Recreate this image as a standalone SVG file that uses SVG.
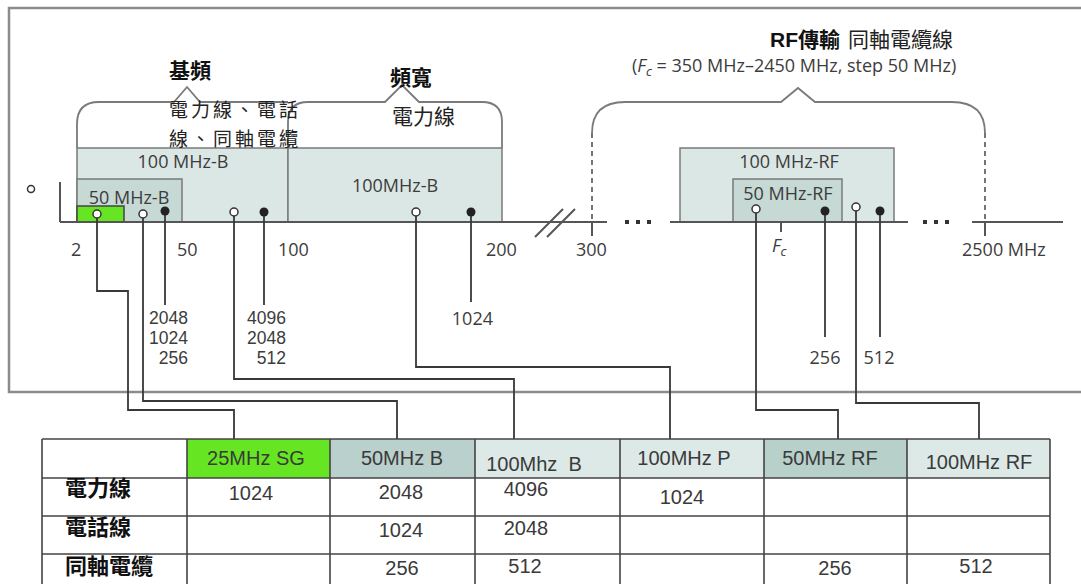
<svg xmlns="http://www.w3.org/2000/svg" width="1081" height="584" viewBox="0 0 1081 584">
<style>
.lbl{font-family:"Open Sans","Liberation Sans",sans-serif;font-size:18px;fill:#3c3c3c}
.stk{font-family:"Liberation Sans",Arial,sans-serif;font-size:17.5px;fill:#3c3c3c}
.cjk{font-family:"Noto Sans CJK TC","Noto Sans CJK SC",sans-serif;font-size:21px;fill:#222}
.cjks{font-family:"Noto Sans CJK TC","Noto Sans CJK SC",sans-serif;font-size:19px;letter-spacing:3px;fill:#222}
.cjkb{font-family:"Noto Sans CJK TC","Noto Sans CJK SC",sans-serif;font-size:21px;font-weight:bold;fill:#111}
.tbl{font-family:"Liberation Sans",Arial,sans-serif;font-size:20px;fill:#3a3a3a;text-anchor:middle}
.rowh{font-family:"Noto Sans CJK TC","Noto Sans CJK SC",sans-serif;font-size:22px;font-weight:bold;fill:#111}
.ax{stroke:#555;stroke-width:2;fill:none}
.br{stroke:#7a7a7a;stroke-width:1.8;fill:none}
.band{stroke:#7a7a7a;stroke-width:1.5}
.light{fill:#dbe7e5}
.mid{fill:#c6d9d5}
.conn{stroke:#383838;stroke-width:1.8;fill:none}
.open{fill:#fff;stroke:#333;stroke-width:1.5}
.dot{fill:#222}
.grid{stroke:#444;stroke-width:1.6;fill:none}
.dash{stroke:#666;stroke-width:1.8;stroke-dasharray:5 4;fill:none}
</style>

<g id="frame">
<rect x="9" y="8" width="1100" height="384" fill="none" stroke="#8c8c8c" stroke-width="2.5"/>
</g>

<g id="band-baseband">
<rect class="band light" x="77" y="148" width="211" height="74"/>
<rect class="band mid" x="77" y="179" width="105" height="43"/>
<rect x="77" y="206" width="47" height="16" fill="#66e622" stroke="#444" stroke-width="1.5"/>
<text class="lbl" x="183" y="168" text-anchor="middle">100 MHz-B</text>
<text class="lbl" x="129" y="204" text-anchor="middle">50 MHz-B</text>
</g>

<g id="band-100b">
<rect class="band light" x="288" y="148" width="214" height="74"/>
<text class="lbl" x="395" y="192" text-anchor="middle">100MHz-B</text>
</g>

<g id="band-rf">
<rect class="band light" x="680" y="148" width="214" height="74"/>
<rect class="band mid" x="733" y="179" width="109" height="43"/>
<text class="lbl" x="789" y="168" text-anchor="middle">100 MHz-RF</text>
<text class="lbl" x="788" y="200" text-anchor="middle">50 MHz-RF</text>
</g>

<g id="braces">
<path class="br" d="M77,148 V124 Q77,102 99,102 H174 L187,87 L200,102 H288"/>
<path class="br" d="M288,148 V122 Q288,102 308,102 H385 L402,85 L419,102 H482 Q502,102 502,122 V148"/>
<path class="br" d="M592,133 Q592,102 625,102 H781 L798,88 L815,102 H952 Q985,102 985,133"/>
<path class="dash" d="M592,133 V222 M985,133 V222"/>
</g>

<g id="titles">
<text class="cjkb" x="169" y="78">基頻</text>
<text class="cjks" x="169" y="117">電力線、電話</text>
<text class="cjks" x="169" y="146">線、同軸電纜</text>
<text class="cjkb" x="390" y="85">頻寬</text>
<text class="cjk" x="392" y="124">電力線</text>
<text x="770" y="47"><tspan font-family="Liberation Sans,Arial,sans-serif" font-size="21" font-weight="bold" fill="#111">RF</tspan><tspan class="cjkb">傳輸</tspan><tspan class="cjk" dx="8">同軸電纜線</tspan></text>
<text class="lbl" x="632" y="72" font-size="19">(<tspan font-style="italic">F</tspan><tspan font-style="italic" font-size="13" dy="4">c</tspan><tspan dy="-4"> = 350 MHz–2450 MHz, step 50 MHz)</tspan></text>
</g>

<g id="axis">
<circle class="open" cx="31" cy="189" r="3.5"/>
<path class="ax" d="M60,222 H607 M670,222 H908 M972,222 H1063 M60,182 V222 M592,222 V236 M985,222 V236 M781,222 V232"/>
<path class="ax" d="M535,237 L563,209 M547,237 L575,209"/>
<g fill="#333">
<rect x="625" y="220" width="4" height="4"/><rect x="636" y="220" width="4" height="4"/><rect x="647" y="220" width="4" height="4"/>
<rect x="923" y="220" width="4" height="4"/><rect x="934" y="220" width="4" height="4"/><rect x="945" y="220" width="4" height="4"/>
</g>
<text class="lbl" x="71" y="256">2</text>
<text class="lbl" x="177" y="256">50</text>
<text class="lbl" x="278" y="256">100</text>
<text class="lbl" x="486" y="256">200</text>
<text class="lbl" x="576" y="256">300</text>
<text class="lbl" x="962" y="256">2500 MHz</text>
<text class="lbl" x="772" y="252" font-style="italic">F<tspan font-size="13" dy="4">c</tspan></text>
</g>

<g id="connectors">
<path class="conn" d="M97,218 V291 H128 V410 H234 V439"/>
<path class="conn" d="M143,218 V401 H397 V439"/>
<path class="conn" d="M165,215 V305"/>
<path class="conn" d="M234,216 V379 H514 V439"/>
<path class="conn" d="M264,216 V305"/>
<path class="conn" d="M416,216 V367 H670 V439"/>
<path class="conn" d="M471,216 V302"/>
<path class="conn" d="M756,213 V410 H838 V439"/>
<path class="conn" d="M856,211 V403 H979 V439"/>
<path class="conn" d="M825,215 V337"/>
<path class="conn" d="M880,215 V337"/>
</g>

<g id="pins">
<circle class="open" cx="97" cy="214" r="4"/>
<circle class="open" cx="143" cy="214" r="4"/>
<circle class="dot" cx="165" cy="211" r="4.5"/>
<circle class="open" cx="234" cy="212" r="4"/>
<circle class="dot" cx="264" cy="212" r="4.5"/>
<circle class="open" cx="416" cy="212" r="4"/>
<circle class="dot" cx="471" cy="212" r="4.5"/>
<circle class="open" cx="756" cy="209" r="4"/>
<circle class="dot" cx="825" cy="211" r="4.5"/>
<circle class="open" cx="856" cy="207" r="4"/>
<circle class="dot" cx="880" cy="211" r="4.5"/>
</g>

<g id="pin-labels">
<text class="stk" x="188" y="324" text-anchor="end">2048</text>
<text class="stk" x="188" y="344" text-anchor="end">1024</text>
<text class="stk" x="188" y="364" text-anchor="end">256</text>
<text class="stk" x="286" y="324" text-anchor="end">4096</text>
<text class="stk" x="286" y="344" text-anchor="end">2048</text>
<text class="stk" x="286" y="364" text-anchor="end">512</text>
<text class="lbl" x="493" y="325" text-anchor="end">1024</text>
<text class="lbl" x="825" y="364" text-anchor="middle">256</text>
<text class="lbl" x="879" y="364" text-anchor="middle">512</text>
</g>

<g id="table">
<rect x="187" y="439" width="143" height="39" fill="#66e622"/>
<rect x="330" y="439" width="145" height="39" fill="#b9d0cc"/>
<rect x="475" y="439" width="145" height="39" fill="#dde9e7"/>
<rect x="620" y="439" width="144" height="39" fill="#dde9e7"/>
<rect x="764" y="439" width="143" height="39" fill="#b7d0ca"/>
<rect x="907" y="439" width="143" height="39" fill="#dde9e7"/>
<path class="grid" d="M42,439 H1050 M42,478 H1050 M42,516 H1050 M42,554 H1050 M42,439 V590 M187,439 V590 M330,439 V590 M475,439 V590 M620,439 V590 M764,439 V590 M907,439 V590 M1050,439 V590"/>
<text class="tbl" x="256" y="465">25MHz SG</text>
<text class="tbl" x="402" y="465">50MHz B</text>
<text class="tbl" x="534" y="471" style="white-space:pre">100Mhz  B</text>
<text class="tbl" x="684" y="465">100MHz P</text>
<text class="tbl" x="830" y="465">50MHz RF</text>
<text class="tbl" x="979" y="469">100MHz RF</text>
<text class="rowh" x="65" y="496">電力線</text>
<text class="rowh" x="65" y="535">電話線</text>
<text class="rowh" x="65" y="574">同軸電纜</text>
<text class="tbl" x="251" y="500">1024</text>
<text class="tbl" x="401" y="499">2048</text>
<text class="tbl" x="526" y="496">4096</text>
<text class="tbl" x="682" y="504">1024</text>
<text class="tbl" x="401" y="537">1024</text>
<text class="tbl" x="526" y="535">2048</text>
<text class="tbl" x="402" y="575">256</text>
<text class="tbl" x="525" y="573">512</text>
<text class="tbl" x="835" y="575">256</text>
<text class="tbl" x="976" y="573">512</text>
</g>
</svg>
